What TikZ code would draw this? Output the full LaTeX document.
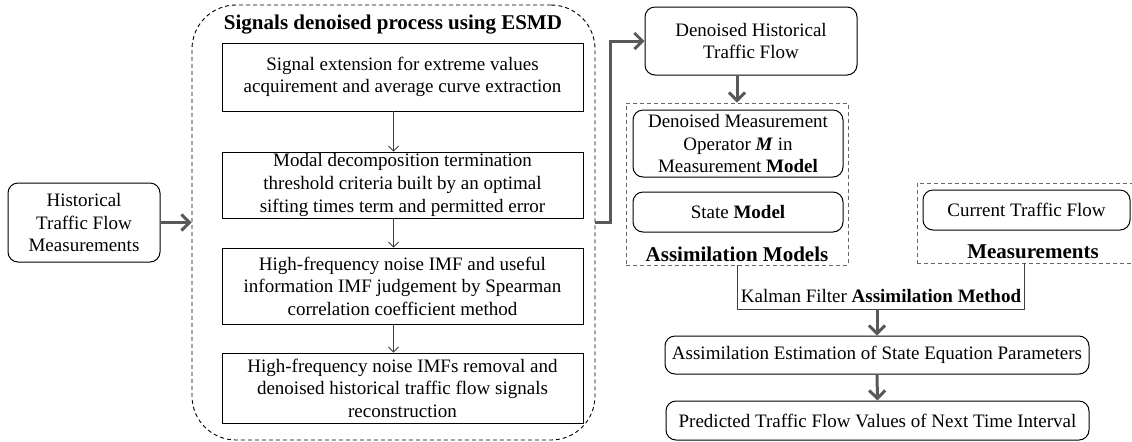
\documentclass[tikz,border=0pt]{standalone}
\usepackage{fontspec}
\setmainfont{Liberation Serif}
\usetikzlibrary{arrows.meta,positioning}

\begin{document}
\begin{tikzpicture}[x=0.5pt,y=-0.5pt,
    every node/.style={font=\fontsize{9.5}{11.3}\selectfont, align=center, inner sep=0pt},
    rbox/.style={draw, rounded corners=5pt, line width=0.5pt},
    sbox/.style={draw, line width=0.45pt},
    grp/.style={draw, dashed, line width=0.45pt, dash pattern=on 2pt off 1.5pt},
    biglabel/.style={font=\fontsize{10.5}{12}\selectfont\bfseries},
    bigarrow/.style={draw=black!65, line width=1.5pt, -{Straight Barb[length=4pt,width=8pt]}},
    thinarrow/.style={draw=black!75, line width=0.45pt, -{Straight Barb[length=2.5pt,width=5pt]}}]
  \clip (0,0) rectangle (1132,441);
  % left part
  \node[rbox, minimum width=76pt, minimum height=39.5pt] (hist) at (84,222.5)
    {Historical\\Traffic Flow\\Measurements};
  \node[grp, rounded corners=22pt, minimum width=201.5pt, minimum height=217.5pt] (esmd) at (393.5,222.5) {};
  \node[biglabel] (title) at (393,25) {Signals denoised process using ESMD};
  \node[sbox, minimum width=180.5pt, minimum height=34pt] (s1) at (402.5,77)
    {Signal extension for extreme values\\acquirement and average curve extraction};
  \node[sbox, minimum width=180.5pt, minimum height=33pt] (s2) at (402.5,185)
    {Modal decomposition termination\\threshold criteria built by an optimal\\sifting times term and permitted error};
  \node[sbox, minimum width=180.5pt, minimum height=38pt] (s3) at (402.5,286)
    {High-frequency noise IMF and useful\\information IMF judgement by Spearman\\correlation coefficient method};
  \node[sbox, minimum width=180.5pt, minimum height=35pt] (s4) at (402.5,388)
    {High-frequency noise IMFs removal and\\denoised historical traffic flow signals\\reconstruction};
  \foreach \a/\b in {s1/s2,s2/s3,s3/s4}
    \draw[thinarrow] (\a.south -| esmd.center) -- (\b.north -| esmd.center);
  % right part
  \node[rbox, minimum width=106pt, minimum height=34pt] (dh) at (751,41)
    {Denoised Historical\\Traffic Flow};
  \node[grp, draw=black!60, minimum width=111pt, minimum height=81pt] (am) at (737,184) {};
  \node[rbox, minimum width=105pt, minimum height=33.5pt] (dm) at (738,143.5)
    {Denoised Measurement\\Operator \textbf{\textit{M}} in\\Measurement \textbf{Model}};
  \node[rbox, minimum width=105pt, minimum height=20pt] (sm) at (738,212) {State \textbf{Model}};
  \node[biglabel] (amlab) at (737,254) {Assimilation Models};
  \node[grp, draw=black!60, minimum width=109.5pt, minimum height=40pt] (meas) at (1026.5,223) {};
  \node[rbox, minimum width=103.5pt, minimum height=20pt] (ct) at (1026.5,210) {Current Traffic Flow};
  \node[biglabel] (measlab) at (1033,252) {Measurements};
  \node (kal) at (881,296) {Kalman Filter \textbf{Assimilation Method}};
  \coordinate (kr) at (1024,309);
  \node[rbox, minimum width=212pt, minimum height=19pt] (ae) at (877,355)
    {Assimilation Estimation of State Equation Parameters};
  \node[rbox, minimum width=211.5pt, minimum height=19.5pt] (pv) at (877.5,420.5)
    {Predicted Traffic Flow Values of Next Time Interval};
  % connectors
  \draw[bigarrow] (hist.east) -- (hist.east -| esmd.west);
  \draw[bigarrow] (esmd.east) -- ++(15,0) |- (dh.west);
  \draw[bigarrow] (am.north |- dh.south) -- (am.north);
  \draw[line width=0.45pt, black!75] (am.south) |- (kr) -- (kr |- meas.south);
  \draw[bigarrow] (ae.north |- kr) -- (ae.north);
  \draw[bigarrow] (ae) -- (pv);
\end{tikzpicture}
\end{document}
